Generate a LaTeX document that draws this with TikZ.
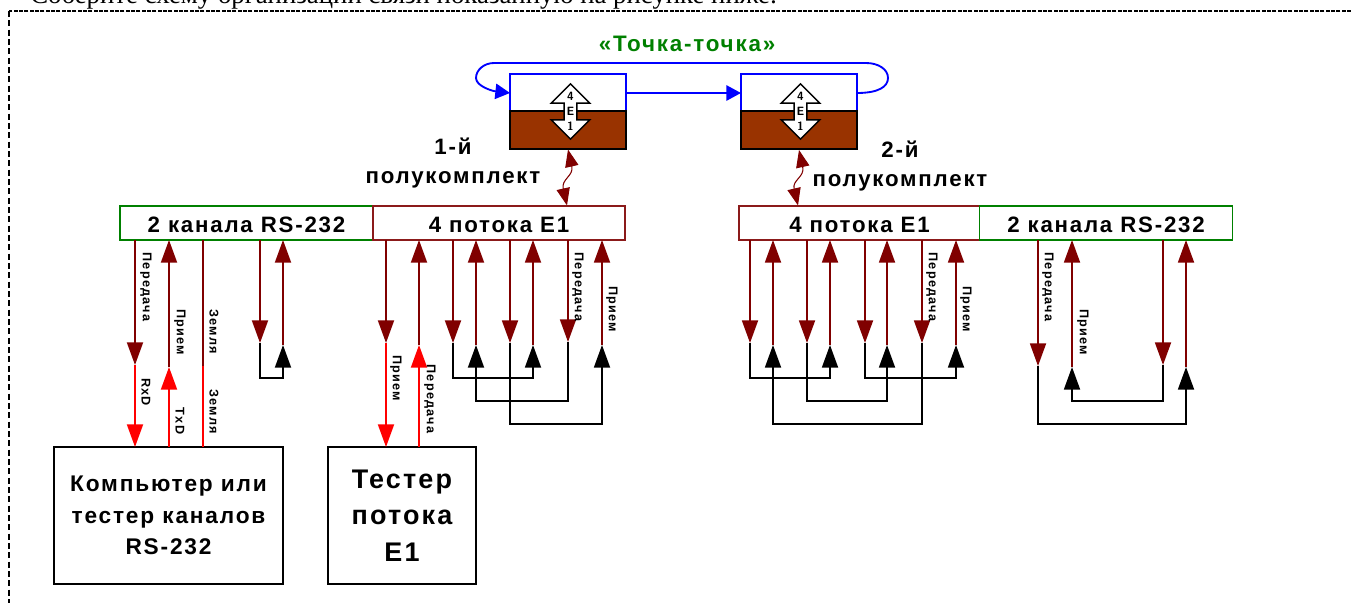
\documentclass[tikz,border=0pt]{standalone}
\usepackage{fontspec}
\setmainfont{Liberation Serif}
\newfontfamily\spfont[LetterSpace=8]{Liberation Sans}
\newfontfamily\spsmall[LetterSpace=10]{Liberation Sans}
\usetikzlibrary{arrows.meta,positioning,shapes.arrows}
\definecolor{wineline}{HTML}{800000}
\definecolor{boxred}{HTML}{8B1A1A}
\definecolor{boxgreen}{HTML}{008000}
\definecolor{brownfill}{HTML}{993300}
\newcommand{\szfont}[1]{\fontsize{#1}{#1}\selectfont}

\begin{document}
\begin{tikzpicture}[
  x=0.75pt, y=-0.75pt,
  bigtip/.style={-{Triangle[length=17pt,width=12pt]}},
  dw/.style={bigtip, draw=wineline, line width=1.4pt},
  rw/.style={bigtip, draw=red, line width=1.4pt},
  bw/.style={bigtip, draw=black, line width=1.4pt},
  plainw/.style={draw=red, line width=1.4pt},
  plainwine/.style={draw=wineline, line width=1.4pt},
  bluew/.style={draw=blue, line width=1.4pt, -{Triangle[length=11pt,width=11.5pt]}},
  linkw/.style={draw=wineline, line width=0.8pt, {Triangle[length=13pt,width=10pt]}-{Triangle[length=13pt,width=10pt]}},
  ifbox/.style={draw, fill=white, line width=1.2pt, minimum height=25.5pt, inner sep=0pt, outer sep=0pt,
                text height=15pt, text depth=1.5pt, font=\spfont\bfseries\szfont{16.7}},
  rsbox/.style={ifbox, draw=boxgreen, minimum width=189.5pt},
  eonebox/.style={ifbox, draw=boxred},
  devbox/.style={draw, line width=1.1pt, align=center, inner sep=0pt, outer sep=0pt, minimum height=102.75pt},
  upblk/.style={draw=blue, fill=white, line width=1.3pt, minimum width=87pt, minimum height=28pt, inner sep=0pt, outer sep=0pt},
  lowblk/.style={draw=black, fill=brownfill, line width=1.3pt, minimum width=87pt, minimum height=28pt, inner sep=0pt, outer sep=0pt},
  muxarrow/.style={draw, fill=white, line width=1.1pt, double arrow, shape border rotate=90, minimum height=41.5pt,
                   minimum width=29pt, double arrow head extend=7pt, inner sep=0pt, align=center,
                   font=\sffamily\bfseries\szfont{9}},
  wl/.style={rotate=-90, inner sep=0pt, font=\spsmall\bfseries\szfont{9.5}},
  hl/.style={inner sep=0pt, font=\spfont\bfseries\szfont{16.7}}
]
\clip (0,0) rectangle (1351,603);

% ---- page frame and the cut line above it ----
\node[anchor=base west, inner sep=0pt, font=\szfont{20.1}] (head) at (30,3)
  {Соберите схему организации связи показанную на рисунке ниже:};
\coordinate (frameTL) at (9,11);
\coordinate (frameTR) at (1351,11);
\coordinate (frameBL) at (9,603);
\draw[line width=1.1pt, dash pattern=on 3pt off 1pt] (frameTR) -- (frameTL);
\draw[line width=1.1pt, dash pattern=on 4.5pt off 2.5pt] (frameTL) -- (frameBL);

% ---- multiplexers ----
\node[upblk]  (muxAtop) at (568,93) {};
\node[lowblk] (muxAlow) at (568,130) {};
\node[upblk]  (muxBtop) at (799,93) {};
\node[lowblk] (muxBlow) at (799,130) {};
\node[muxarrow] (muxAarr) at (570.5,111.5) {4\\[2.4pt]E\\[2.4pt]1};
\node[muxarrow] (muxBarr) at (800.5,111.5) {4\\[2.4pt]E\\[2.4pt]1};

\draw[bluew] (muxAtop.east) -- (muxBtop.west);
\draw[bluew] (muxBtop.east) .. controls (878,93) and (888,87) .. (888,78)
  .. controls (888,69) and (878,63) .. (866,63) -- (494,63)
  .. controls (484,63) and (476,70) .. (476,78)
  .. controls (476,86) and (492,91) .. (muxAtop.west);

\node[font=\spfont\bfseries\szfont{16.8}, text=boxgreen, inner sep=0pt] (ptp) at (687,44) {«Точка-точка»};
\node[hl] (setAnum)  at (453,146) {1-й};
\node[hl] (setAname) at (453,180) {полукомплект};
\node[hl] (setBnum)  at (900,149) {2-й};
\node[hl] (setBname) at (900,183) {полукомплект};

% ---- interface boxes ----
\node[rsbox]   (rsA) at (246.5,223) {2 канала RS-232};
\node[eonebox, minimum width=189pt]   (eoneA) at (499,223) {4 потока E1};
\node[eonebox, minimum width=180.75pt] (eoneB) at (859.5,223) {4 потока E1};
\node[rsbox]   (rsB) at (1106,223) {2 канала RS-232};

\draw[linkw] (568,149.5) .. controls (574,176) and (561,179) .. (567,205.5);
\draw[linkw] (799,150) .. controls (805,177) and (792,180) .. (798,205.5);

% ---- devices ----
\node[devbox, minimum width=171.75pt, font=\spfont\bfseries\szfont{17}] (pc) at (168.5,515.5)
  {Компьютер или\\[6.4pt]тестер каналов\\[6.4pt]RS-232};
\node[devbox, minimum width=111pt, font=\spfont\bfseries\szfont{20.2}] (tester) at (402,515.5)
  {Тестер\\[7pt]потока\\[7pt]E1};

% ---- wire ends ----
\coordinate (lvlA) at (0,378);
\coordinate (lvlB) at (0,401);
\coordinate (lvlC) at (0,424);

\coordinate (txA) at (135,365);
\coordinate (rxA) at (169,367);
\coordinate (gndA) at (203,366);
\coordinate (lbAd) at (260,343);
\coordinate (lbAu) at (283,345);

\draw[dw] (txA |- rsA.south) -- (txA);
\draw[rw] (txA) -- (txA |- pc.north);
\draw[dw] (rxA) -- (rxA |- rsA.south);
\draw[rw] (rxA |- pc.north) -- (rxA);
\draw[plainwine] (gndA |- rsA.south) -- (gndA);
\draw[plainw] (gndA) -- (gndA |- pc.north);
\draw[dw] (lbAd |- rsA.south) -- (lbAd);
\draw[dw] (lbAu) -- (lbAu |- rsA.south);
\draw[bw] (lbAd) -- (lbAd |- lvlA) -| (lbAu);

% ---- left E1 ----
\coordinate (e1d) at (386,343);
\coordinate (e1u) at (419,345);
\coordinate (e2d) at (453,343);
\coordinate (e2u) at (476,345);
\coordinate (e3d) at (510,343);
\coordinate (e3u) at (533,345);
\coordinate (e4d) at (568,342);
\coordinate (e4u) at (602,345);

\draw[dw] (e1d |- eoneA.south) -- (e1d);
\draw[rw] (e1d) -- (e1d |- tester.north);
\draw[dw] (e1u) -- (e1u |- eoneA.south);
\draw[rw] (e1u |- tester.north) -- (e1u);
\draw[dw] (e2d |- eoneA.south) -- (e2d);
\draw[dw] (e2u) -- (e2u |- eoneA.south);
\draw[dw] (e3d |- eoneA.south) -- (e3d);
\draw[dw] (e3u) -- (e3u |- eoneA.south);
\draw[dw] (e4d |- eoneA.south) -- (e4d);
\draw[dw] (e4u) -- (e4u |- eoneA.south);
\draw[bw] (e2d) -- (e2d |- lvlA) -| (e3u);
\draw[bw] (e4d) -- (e4d |- lvlB) -| (e2u);
\draw[bw] (e3d) -- (e3d |- lvlC) -| (e4u);

% ---- right E1 ----
\coordinate (f1d) at (750,343);
\coordinate (f1u) at (773,345);
\coordinate (f2d) at (807,343);
\coordinate (f2u) at (830,345);
\coordinate (f3d) at (865,343);
\coordinate (f3u) at (887,345);
\coordinate (f4d) at (922,343);
\coordinate (f4u) at (956,345);

\draw[dw] (f1d |- eoneB.south) -- (f1d);
\draw[dw] (f1u) -- (f1u |- eoneB.south);
\draw[dw] (f2d |- eoneB.south) -- (f2d);
\draw[dw] (f2u) -- (f2u |- eoneB.south);
\draw[dw] (f3d |- eoneB.south) -- (f3d);
\draw[dw] (f3u) -- (f3u |- eoneB.south);
\draw[dw] (f4d |- eoneB.south) -- (f4d);
\draw[dw] (f4u) -- (f4u |- eoneB.south);
\draw[bw] (f1d) -- (f1d |- lvlA) -| (f2u);
\draw[bw] (f2d) -- (f2d |- lvlB) -| (f3u);
\draw[bw] (f3d) -- (f3d |- lvlA) -| (f4u);
\draw[bw] (f4d) -- (f4d |- lvlC) -| (f1u);

% ---- right RS-232 ----
\coordinate (g1d) at (1038,366);
\coordinate (g1u) at (1072,367);
\coordinate (g2d) at (1163,365);
\coordinate (g2u) at (1186,367);

\draw[dw] (g1d |- rsB.south) -- (g1d);
\draw[dw] (g1u) -- (g1u |- rsB.south);
\draw[dw] (g2d |- rsB.south) -- (g2d);
\draw[dw] (g2u) -- (g2u |- rsB.south);
\draw[bw] (g1d) -- (g1d |- lvlC) -| (g2u);
\draw[bw] (g2d) -- (g2d |- lvlB) -| (g1u);

% ---- wire labels ----
\node[wl] (lbTxA)   at (146,287) {Передача};
\node[wl] (lbRxA)   at (180,332) {Прием};
\node[wl] (lbGndA)  at (214,332) {Земля};
\node[wl] (lbRxD)   at (146,392) {RxD};
\node[wl] (lbTxD)   at (180,421) {TxD};
\node[wl] (lbGndPc) at (214,412) {Земля};
\node[wl] (lbRxT)   at (396,378) {Прием};
\node[wl] (lbTxT)   at (430,399) {Передача};
\node[wl] (lbTxE)   at (578,287) {Передача};
\node[wl] (lbRxE)   at (612,309) {Прием};
\node[wl] (lbTxF)   at (932,287) {Передача};
\node[wl] (lbRxF)   at (966,309) {Прием};
\node[wl] (lbTxG)   at (1048,287) {Передача};
\node[wl] (lbRxG)   at (1083,332) {Прием};
\end{tikzpicture}
\end{document}
